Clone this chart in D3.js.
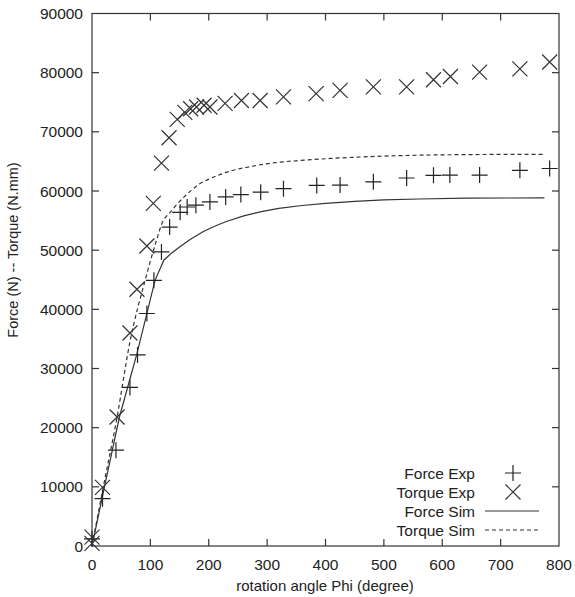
<!DOCTYPE html>
<html>
<head>
<meta charset="utf-8">
<script src="https://cdn.jsdelivr.net/npm/d3@7"></script>
<style>
  body { margin: 0; background: #fff; }
  svg text { font-family: "Liberation Sans", Arial, sans-serif; fill: #222; }
</style>
</head>
<body>
<svg id="chart" width="575" height="597"></svg>
<script>
// data
const forceExp = [
  [0, 1200], [18, 8000], [41, 16200], [65, 26800], [78, 32300], [94, 39300],
  [106, 44900], [119, 49700], [133, 53900], [151, 56400], [163, 57300],
  [178, 57600], [202, 58150], [229, 59000], [255, 59400], [289, 59800],
  [328, 60400], [385, 60950], [425, 61000], [482, 61550], [539, 62200],
  [585, 62650], [613, 62700], [664, 62700], [733, 63500], [784, 63800]
];
const torqueExp = [
  [0, 450], [0, 1500], [18, 9900], [43, 21800], [65, 36000], [77, 43400],
  [94, 50700], [105, 57900], [119, 64700], [132, 69000], [146, 72100],
  [159, 73300], [169, 73900], [179, 74200], [192, 74500], [202, 74200],
  [228, 74800], [256, 75300], [288, 75300], [328, 75900], [384, 76450],
  [425, 77000], [482, 77600], [539, 77600], [585, 78800], [614, 79350],
  [664, 80100], [733, 80650], [784, 81800]
];
const forceSim = [
  [0, 0], [19, 8900], [47, 21800], [77, 32500], [108, 44900], [123, 48300],
  [135, 49400], [150, 50550], [168, 51800], [190, 53100], [210, 54050],
  [230, 54850], [260, 55800], [290, 56500], [320, 57050], [360, 57550],
  [400, 57900], [450, 58250], [500, 58500], [560, 58650], [640, 58780], [775, 58850]
];
const torqueSim = [
  [0, 0], [18, 9300], [43, 21800], [65, 34500], [91, 44900], [110, 51500],
  [122, 55000], [128, 55800], [134, 56400], [145, 57700], [158, 59000],
  [170, 60100], [185, 61250], [200, 62000], [220, 62800], [242, 63500],
  [270, 64100], [299, 64600], [330, 64950], [356, 65150], [408, 65500],
  [450, 65700], [500, 65900], [560, 66050], [640, 66150], [775, 66200]
];
const xTicks = [0, 100, 200, 300, 400, 500, 600, 700, 800];
const yTicks = [0, 10000, 20000, 30000, 40000, 50000, 60000, 70000, 80000, 90000];
const legendNames = ["Force Exp", "Torque Exp", "Force Sim", "Torque Sim"];

const svg = d3.select("#chart");
const mLeft = 92, mRight = 559, mTop = 13.5, mBottom = 546;
const ink = "#333";

const x = d3.scaleLinear().domain([0, 800]).range([mLeft, mRight]);
const y = d3.scaleLinear().domain([0, 90000]).range([mBottom, mTop]);

// frame with mirrored inner ticks
const tl = 7;
const axes = svg.append("g").attr("stroke", ink).attr("stroke-width", 1.2).attr("fill", "none");
xTicks.slice(1, -1).forEach(t => {
  axes.append("line").attr("x1", x(t)).attr("x2", x(t)).attr("y1", mBottom).attr("y2", mBottom - tl);
  axes.append("line").attr("x1", x(t)).attr("x2", x(t)).attr("y1", mTop).attr("y2", mTop + tl);
});
yTicks.slice(1, -1).forEach(t => {
  axes.append("line").attr("x1", mLeft).attr("x2", mLeft + tl).attr("y1", y(t)).attr("y2", y(t));
  axes.append("line").attr("x1", mRight).attr("x2", mRight - tl).attr("y1", y(t)).attr("y2", y(t));
});
axes.append("rect").attr("x", mLeft).attr("y", mTop)
  .attr("width", mRight - mLeft).attr("height", mBottom - mTop);

// tick labels
svg.append("g").selectAll("text").data(xTicks).join("text")
  .attr("x", d => x(d)).attr("y", 570)
  .attr("text-anchor", "middle").attr("font-size", 15.5)
  .text(d => d);
svg.append("g").selectAll("text").data(yTicks).join("text")
  .attr("x", 83).attr("y", d => y(d) + 5.5)
  .attr("text-anchor", "end").attr("font-size", 15.5)
  .text(d => d);

// axis titles
svg.append("text").attr("x", 325).attr("y", 591).attr("text-anchor", "middle")
  .attr("font-size", 15).text("rotation angle Phi (degree)");
svg.append("text").attr("transform", "translate(18,250) rotate(-90)")
  .attr("text-anchor", "middle").attr("font-size", 14.5)
  .text("Force (N) -- Torque (N.mm)");

// lines
const lineSharp = d3.line().x(d => x(d[0])).y(d => y(d[1]));
const lineSmooth = d3.line().x(d => x(d[0])).y(d => y(d[1])).curve(d3.curveMonotoneX);
svg.append("path").datum(forceSim).attr("d", lineSharp)
  .attr("fill", "none").attr("stroke", ink).attr("stroke-width", 1.2);
svg.append("path").datum(torqueSim).attr("d", lineSmooth)
  .attr("fill", "none").attr("stroke", ink).attr("stroke-width", 1.2)
  .attr("stroke-dasharray", "4,3");

// markers
const plus = (cx, cy, s) => `M${cx - s},${cy}H${cx + s}M${cx},${cy - s}V${cy + s}`;
const cross = (cx, cy, s) => `M${cx - s},${cy - s}L${cx + s},${cy + s}M${cx - s},${cy + s}L${cx + s},${cy - s}`;

svg.append("g").selectAll("path").data(forceExp).join("path")
  .attr("d", d => plus(x(d[0]), y(d[1]), 8))
  .attr("stroke", "#222").attr("stroke-width", 1.2).attr("fill", "none");
svg.append("g").selectAll("path").data(torqueExp).join("path")
  .attr("d", d => cross(x(d[0]), y(d[1]), 7.5))
  .attr("stroke", "#333").attr("stroke-width", 1.2).attr("fill", "none");

// legend
const lg = svg.append("g");
legendNames.forEach((name, i) => {
  const ly = 473 + i * 19;
  lg.append("text").attr("x", 475).attr("y", ly + 5.5).attr("text-anchor", "end")
    .attr("font-size", 15.5).text(name);
  if (i === 0) lg.append("path").attr("d", plus(513, ly, 8)).attr("stroke", "#222").attr("stroke-width", 1.2);
  if (i === 1) lg.append("path").attr("d", cross(513, ly, 7.5)).attr("stroke", "#333").attr("stroke-width", 1.2);
  if (i >= 2) lg.append("line").attr("x1", 485).attr("x2", 539).attr("y1", ly).attr("y2", ly)
    .attr("stroke", ink).attr("stroke-width", 1.2)
    .attr("stroke-dasharray", i === 3 ? "4,3" : null);
});
</script>
</body>
</html>
